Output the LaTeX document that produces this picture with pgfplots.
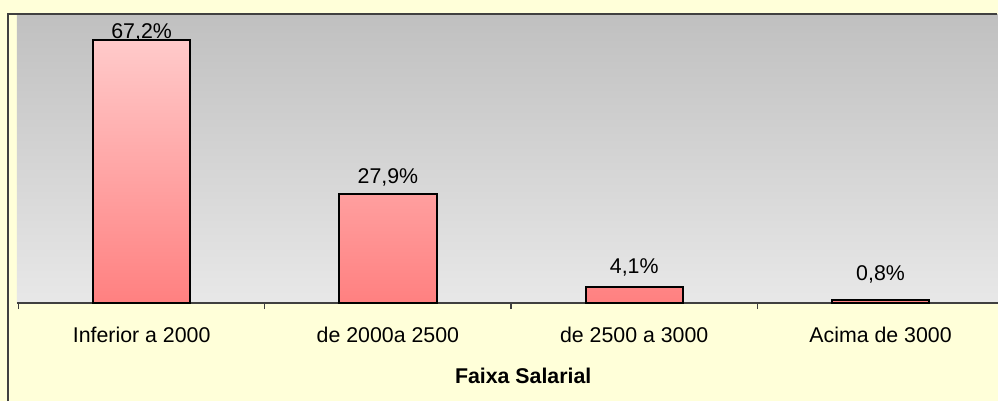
\documentclass[border=0pt]{standalone}
\usepackage{pgfplots}
\pgfplotsset{compat=1.18}
\usepackage{pgfplotstable}
\usepackage{fontspec}
\setmainfont{Liberation Sans}
\definecolor{bgyellow}{RGB}{255,255,217}
\definecolor{framec}{RGB}{64,64,64}
\definecolor{plottop}{RGB}{192,192,192}
\definecolor{plotbot}{RGB}{232,232,232}
\definecolor{bartop}{RGB}{255,202,202}
\definecolor{barbot}{RGB}{255,128,128}
\pgfplotstableread{
x y dy
0 67.2 0
1 27.9 6.75
2 4.1 9
3 0.8 13.5
}\datatable
\begin{document}
\begin{tikzpicture}[x=1pt,y=1pt]
\fill[bgyellow] (0,0) rectangle (748.5,300.75);
\path[use as bounding box] (0,0) rectangle (748.5,300.75);
\begin{axis}[
  at={(12.75pt,73.5pt)}, anchor=south west,
  scale only axis, width=735.75pt, height=216pt,
  xmin=-0.506, xmax=3.477, ymin=0, ymax=73.6,
  axis background/.style={top color=plottop, bottom color=plotbot},
  axis x line*=bottom, axis y line=none, ytick=\empty,
  axis line style={framec, line width=1.2pt},
  xtick={0,1,2,3},
  xticklabels={Inferior a 2000, de 2000a 2500, de 2500 a 3000, Acima de 3000},
  major tick length=0pt,
  extra x ticks={-0.5,0.5,1.5,2.5},
  extra x tick labels={},
  extra x tick style={major tick length=4.5pt, tick align=outside, tick style={framec, line width=1pt}},
  xticklabel style={anchor=base, yshift=-29.25pt, font=\fontsize{16}{19}\selectfont},
  xlabel={Faixa Salarial},
  xlabel style={at={(axis description cs:0.516,0)}, anchor=base, yshift=-60pt, font=\fontsize{16}{19}\selectfont\bfseries},
]
\addplot[ybar, bar width=73pt, draw=black, line width=1.5pt,
  top color=bartop, bottom color=barbot,
  point meta=y,
  nodes near coords={\smash{\pgfmathprintnumber[fixed,fixed zerofill,precision=1,use comma,assume math mode=true]{\pgfplotspointmeta}\%}},
  visualization depends on={\thisrow{dy} \as \dy},
  every node near coord/.append style={anchor=south, inner sep=0pt, yshift=\dy pt, text=black, font=\fontsize{16}{19}\selectfont}
] table[x=x,y=y]{\datatable};
\end{axis}
\draw[framec, line width=1.5pt] (6,0) -- (6,290.25) -- (747.75,290.25);
\end{tikzpicture}
\end{document}
